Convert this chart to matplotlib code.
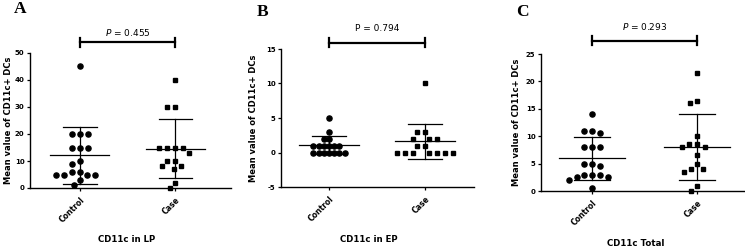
import numpy as np
import matplotlib
matplotlib.use("Agg")
import matplotlib.pyplot as plt
from matplotlib.transforms import blended_transform_factory

# ---------------- data ----------------
groups = ["Control", "Case"]

lp_control = [45, 20, 20, 20, 15, 15, 15, 10, 9, 6, 6, 5, 5, 5, 5, 3, 1]
lp_case = [40, 30, 30, 15, 15, 15, 15, 13, 10, 10, 8, 8, 7, 2, 0]

ep_control = [5, 3, 2, 2, 1, 1, 1, 1, 1, 1, 0, 0, 0, 0, 0, 0, 0]
ep_case = [10, 3, 3, 2, 2, 2, 1, 1, 0, 0, 0, 0, 0, 0, 0]

tot_control = [14, 11, 11, 10.5, 8, 8, 8, 5, 5, 4.5, 3, 3, 3, 2.5, 2.5, 2, 0.5]
tot_case = [21.5, 16.5, 16, 10, 8.5, 8.5, 8, 8, 6.5, 5, 4, 4, 3.5, 1, 0]

panel_letters = ["A", "B", "C"]
xlabels = ["CD11c in LP", "CD11c in EP", "CD11c Total"]
p_texts = [r"$\mathit{P}$ = 0.455", "P = 0.794", r"$\mathit{P}$ = 0.293"]
y_ticks = [[0, 10, 20, 30, 40, 50], [-5, 0, 5, 10, 15], [0, 5, 10, 15, 20, 25]]
ylabel = "Mean value of CD11c+ DCs"

# ---------------- layout ----------------
W, H = 745, 247
fig = plt.figure(figsize=(W / 100, H / 100), dpi=100)


def px_axes(left, right, top, bottom):
    return [left / W, 1 - bottom / H, (right - left) / W, (bottom - top) / H]


panels = [
    dict(rect=px_axes(30, 231, 53, 188), xlim=(-0.52, 1.58),
         data=(lp_control, lp_case), spacing=(8, 8),
         bar_y=1.081, txt_y=1.15, letter=(20, 9),
         ylab_x=-0.107, xlab=(0.483, -0.378)),
    dict(rect=px_axes(281, 474, 49, 187), xlim=(-0.5, 1.51),
         data=(ep_control, ep_case), spacing=(5.2, 8),
         bar_y=1.045, txt_y=1.15, letter=(263, 12),
         ylab_x=-0.14, xlab=(0.456, -0.377)),
    dict(rect=px_axes(541, 745, 54, 191), xlim=(-0.486, 1.457),
         data=(tot_control, tot_case), spacing=(8, 8),
         bar_y=1.095, txt_y=1.2, letter=(522, 12),
         ylab_x=-0.118, xlab=(0.466, -0.38)),
]


def beeswarm(ax, xc, values, d):
    """Place points without overlap (distance d in pixels) around x = xc."""
    vals = np.asarray(values, dtype=float)
    order = np.argsort(-vals, kind="stable")
    ypx = ax.transData.transform(np.column_stack([np.full(len(vals), xc), vals]))[:, 1]
    placed = []
    offs = np.zeros(len(vals))
    for i in order:
        y = ypx[i]
        neigh = [(xo, yo) for xo, yo in placed if abs(yo - y) < d]
        cands = [0.0]
        for xo, yo in neigh:
            dx = np.sqrt(d * d - (yo - y) ** 2)
            cands += [xo - dx, xo + dx]
        best = None
        for c in sorted(cands, key=lambda v: (round(abs(v), 3), v)):
            ok = True
            for xo, yo in neigh:
                dx = np.sqrt(d * d - (yo - y) ** 2)
                if abs(c - xo) < dx - 1e-6:
                    ok = False
                    break
            if ok:
                best = c
                break
        offs[i] = best
        placed.append((best, y))
    x0 = ax.transData.transform((xc, 0))[0]
    xs = ax.transData.inverted().transform(
        np.column_stack([x0 + offs, np.zeros(len(vals))]))[:, 0]
    return xs, vals


for k, p in enumerate(panels):
    ax = fig.add_axes(p["rect"])
    ax.set_xlim(*p["xlim"])
    yt = y_ticks[k]
    ax.set_ylim(yt[0], yt[-1])
    ax.set_yticks(yt)
    ax.set_xticks([0, 1])
    for s in ["top", "right"]:
        ax.spines[s].set_visible(False)
    for s in ["left", "bottom"]:
        ax.spines[s].set_linewidth(1.0)
    ax.tick_params(axis="both", length=2.5, width=0.9, direction="out")
    ax.tick_params(axis="y", labelsize=5, pad=1.5)
    ax.set_yticklabels([str(t) for t in yt], fontweight="bold")
    ax.set_xticklabels(groups, rotation=45, ha="right", va="top",
                       rotation_mode="anchor", fontsize=5.5, fontweight="bold")
    ax.tick_params(axis="x", pad=3)

    markers = ["o", "s"]
    msizes = [3.7, 3.2]
    for g, vals in enumerate(p["data"]):
        xs, ys = beeswarm(ax, g, vals, p["spacing"][g])
        ax.plot(xs, ys, linestyle="none", marker=markers[g], ms=msizes[g],
                color="black", mec="black", zorder=3, clip_on=False)
        m = np.mean(vals)
        sd = np.std(vals, ddof=1)
        ax.plot([g - 0.31, g + 0.31], [m, m], color="black", lw=0.9, zorder=2)
        ax.plot([g, g], [m - sd, m + sd], color="black", lw=0.9, zorder=2)
        for v in (m - sd, m + sd):
            ax.plot([g - 0.175, g + 0.175], [v, v], color="black", lw=0.9, zorder=2)

    tr = blended_transform_factory(ax.transData, ax.transAxes)
    by = p["bar_y"]
    cap = 4.5 / (p["rect"][3] * H)
    ax.plot([0, 1], [by, by], color="black", lw=1.6, transform=tr, clip_on=False)
    for xx in (0, 1):
        ax.plot([xx, xx], [by - cap, by + cap], color="black", lw=1.6,
                transform=tr, clip_on=False)
    ax.text(0.5, p["txt_y"], p_texts[k], transform=tr, ha="center", va="center",
            fontsize=6.5)

    ax.set_ylabel(ylabel, fontsize=6.0, fontweight="bold", va="center")
    ax.yaxis.set_label_coords(p["ylab_x"], 0.5)
    ax.set_xlabel(xlabels[k], fontsize=6.2, fontweight="bold", va="center")
    ax.xaxis.set_label_coords(*p["xlab"])

    lx, ly = p["letter"]
    fig.text(lx / W, 1 - ly / H, panel_letters[k], fontsize=12.5, fontweight="bold",
             family="Liberation Serif", ha="center", va="center")

fig.savefig("out.png", dpi=100, facecolor="white")
